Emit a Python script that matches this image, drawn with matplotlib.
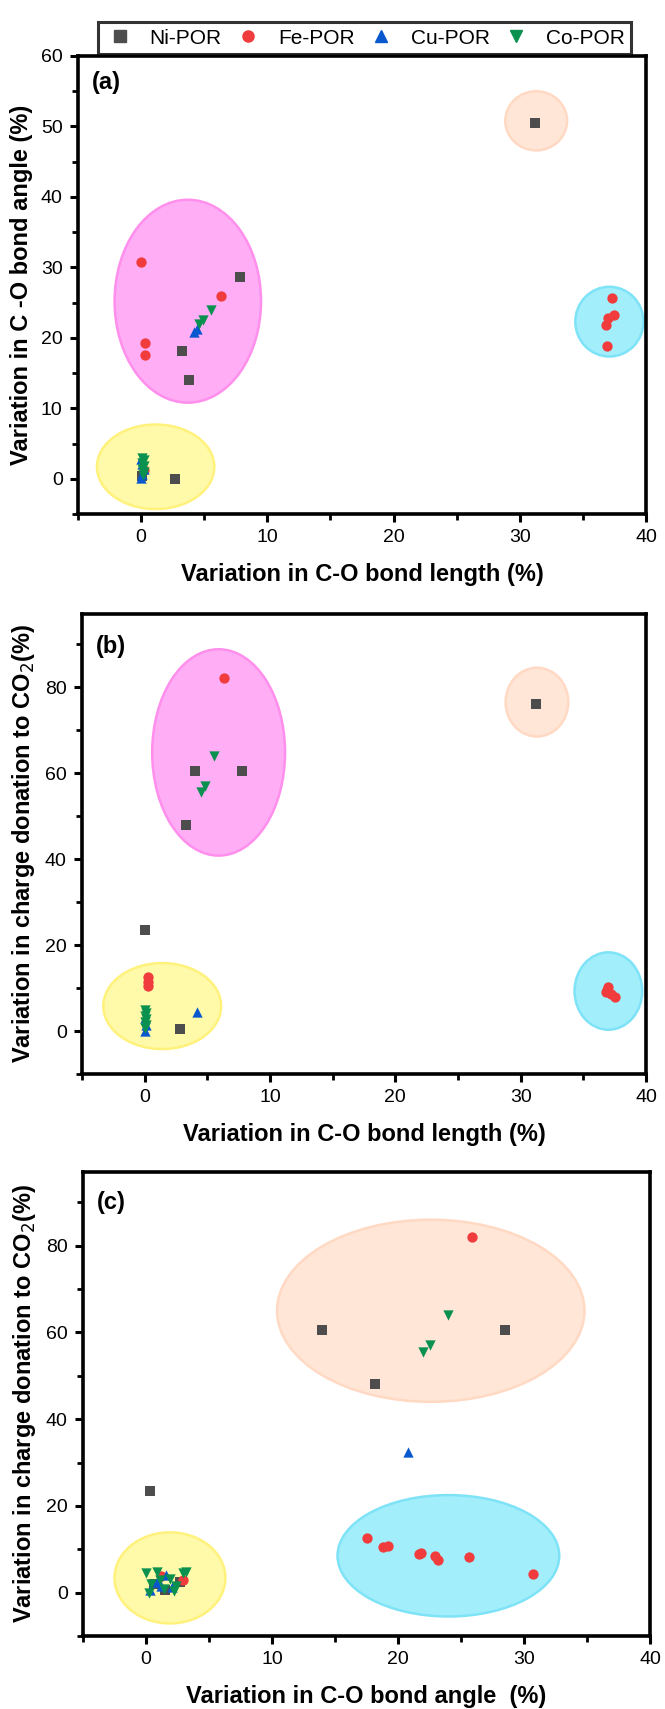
import matplotlib
matplotlib.use("Agg")
import matplotlib.pyplot as plt
from matplotlib import font_manager
from matplotlib.patches import Ellipse
from matplotlib.lines import Line2D
from matplotlib.ticker import MultipleLocator

# condensed look of the original: use the narrow Liberation face if it exists
names = {f.name for f in font_manager.fontManager.ttflist}
narrow = "Liberation Sans Narrow" in names
if narrow:
    plt.rcParams['font.family'] = ['Liberation Sans Narrow', 'DejaVu Sans']
    fs_tick, fs_lab, fs_leg, fs_tag = 16, 20, 18.5, 19
else:
    plt.rcParams['font.family'] = ['Liberation Sans', 'DejaVu Sans']
    fs_tick, fs_lab, fs_leg, fs_tag = 14, 17, 15, 17

# ---- series names / styles ----
series = ["Ni-POR", "Fe-POR", "Cu-POR", "Co-POR"]
markers = ["s", "o", "^", "v"]
colors = ["#4D4D4D", "#F03C3C", "#0A58CF", "#0A9150"]

# ---- panel (a): bond length (x) vs bond angle (y) ----
a_ni_x = [31.2, 7.8, 3.2, 3.8, 2.7, 0.1]
a_ni_y = [50.5, 28.6, 18.2, 14.0, 0.0, 0.4]
a_fe_x = [0.0, 0.3, 0.3, 6.3, 37.3, 37.5, 37.0, 36.8, 36.9, 0.2]
a_fe_y = [30.7, 19.2, 17.6, 26.0, 25.6, 23.2, 22.8, 21.8, 18.8, 1.2]
a_cu_x = [4.2, 4.4, 0.0, 0.1, 0.2, 0.1, 0.0]
a_cu_y = [20.8, 21.3, 0.1, 0.7, 1.4, 2.1, 2.8]
a_co_x = [4.6, 4.9, 5.5, 0.1, 0.2, 0.1, 0.2, 0.1, 0.2, 0.15]
a_co_y = [21.9, 22.5, 24.0, 3.0, 2.6, 2.2, 1.8, 1.4, 1.0, 0.5]

# ---- panel (b): bond length (x) vs charge donation (y) ----
b_ni_x = [31.2, 4.0, 7.8, 3.3, 0.0, 2.8]
b_ni_y = [76.0, 60.5, 60.5, 48.0, 23.5, 0.5]
b_fe_x = [6.3, 0.3, 0.3, 0.3, 37.0, 36.8, 37.2, 37.5, 36.9]
b_fe_y = [82.0, 12.5, 11.5, 10.5, 10.2, 9.0, 8.6, 7.8, 9.6]
b_cu_x = [4.2, 0.0, 0.1, 0.0]
b_cu_y = [4.5, 0.0, 1.5, 3.0]
b_co_x = [5.5, 4.8, 4.5, 0.0, 0.1, 0.0, 0.1, 0.0, 0.1, 0.0]
b_co_y = [64.0, 57.0, 55.5, 5.0, 4.3, 3.6, 2.9, 2.2, 1.5, 0.6]

# ---- panel (c): bond angle (x) vs charge donation (y) ----
c_ni_x = [14.0, 28.5, 18.2, 0.3, 0.6, 2.7, 1.5]
c_ni_y = [60.5, 60.5, 48.0, 23.5, 2.0, 2.5, 0.5]
c_fe_x = [25.9, 17.5, 18.8, 19.2, 21.8, 21.7, 22.9, 23.2, 25.6, 30.7, 1.2, 2.9]
c_fe_y = [82.0, 12.5, 10.5, 10.8, 9.2, 8.8, 8.5, 7.5, 8.2, 4.2, 3.8, 3.0]
c_cu_x = [20.8, 0.3, 0.9, 1.6, 2.1, 1.2]
c_cu_y = [32.5, 0.5, 2.5, 4.0, 1.2, 1.5]
c_co_x = [24.0, 22.5, 22.0, 0.0, 0.4, 0.9, 1.4, 1.9, 2.4, 2.9, 3.2, 0.2, 1.1, 2.2]
c_co_y = [64.0, 57.0, 55.5, 4.5, 2.0, 4.8, 0.8, 3.2, 1.5, 4.6, 4.8, 0.0, 3.0, 0.4]

# ---- highlight ellipses: (cx, cy, w, h, kind) ----
shade = {"pink": ("#FFADF5", "#FF8FEC"), "yellow": ("#FFF9AA", "#FFF27C"),
         "cyan": ("#A2EEFB", "#7FE3F7"), "peach": ("#FFE6D7", "#FFD9C3")}
a_ell = [(3.7, 25.2, 11.6, 28.8, "pink"), (1.15, 1.7, 9.3, 12.0, "yellow"),
         (31.3, 50.8, 4.9, 8.4, "peach"), (37.1, 22.3, 5.4, 9.9, "cyan")]
b_ell = [(5.9, 64.8, 10.6, 48.0, "pink"), (1.4, 5.8, 9.4, 20.0, "yellow"),
         (31.3, 76.5, 5.0, 16.0, "peach"), (37.0, 9.3, 5.4, 18.0, "cyan")]
c_ell = [(22.6, 65.0, 24.4, 42.0, "peach"), (1.9, 3.4, 8.8, 21.0, "yellow"),
         (24.0, 8.5, 17.6, 28.0, "cyan")]

W, H = 665, 1709
fig = plt.figure(figsize=(W / 100, H / 100), dpi=100)

def rect(l, r, t, b):
    return [l / W, 1 - b / H, (r - l) / W, (b - t) / H]

panels = [
    (rect(78, 646, 56, 514), (-5, 60), 10, 5, "(a)", 26,
     "Variation in C-O bond length (%)", "Variation in C -O bond angle (%)",
     a_ell, [(a_ni_x, a_ni_y), (a_fe_x, a_fe_y), (a_cu_x, a_cu_y), (a_co_x, a_co_y)]),
    (rect(82, 646, 614, 1074), (-10, 97), 20, 10, "(b)", 32,
     "Variation in C-O bond length (%)", "Variation in charge donation to CO$_2$(%)",
     b_ell, [(b_ni_x, b_ni_y), (b_fe_x, b_fe_y), (b_cu_x, b_cu_y), (b_co_x, b_co_y)]),
    (rect(83, 650, 1172, 1636), (-10, 97), 20, 10, "(c)", 30,
     "Variation in C-O bond angle  (%)", "Variation in charge donation to CO$_2$(%)",
     c_ell, [(c_ni_x, c_ni_y), (c_fe_x, c_fe_y), (c_cu_x, c_cu_y), (c_co_x, c_co_y)]),
]

for pos, ylim, ymaj, ymin, tag, tag_dy, xlab, ylab, ells, data in panels:
    ax = fig.add_axes(pos)
    for cx, cy, w, h, kind in ells:
        fc, ec = shade[kind]
        ax.add_patch(Ellipse((cx, cy), w, h, facecolor=fc, edgecolor=ec, lw=1.8, zorder=1))
    for (xs, ys), m, c in zip(data, markers, colors):
        ax.scatter(xs, ys, marker=m, s=55, color=c, linewidths=0, zorder=3)
    ax.set_xlim(-5, 40)
    ax.set_ylim(*ylim)
    ax.xaxis.set_major_locator(MultipleLocator(10))
    ax.xaxis.set_minor_locator(MultipleLocator(5))
    ax.yaxis.set_major_locator(MultipleLocator(ymaj))
    ax.yaxis.set_minor_locator(MultipleLocator(ymin))
    for s in ax.spines.values():
        s.set_linewidth(2.6)
    ax.tick_params(which="major", direction="out", length=6, width=2.2,
                   labelsize=fs_tick, pad=5)
    ax.tick_params(which="minor", direction="out", length=4, width=2.0)
    ax.set_xlabel(xlab, fontsize=fs_lab, fontweight="bold", labelpad=12)
    ax.set_ylabel(ylab, fontsize=fs_lab, fontweight="bold", labelpad=6)
    ax.annotate(tag, xy=(0, 1), xycoords="axes fraction", xytext=(14, -tag_dy),
                textcoords="offset pixels", fontsize=fs_tag, fontweight="bold",
                va="center", ha="left")

handles = [Line2D([], [], ls="none", marker=m, color=c, markersize=8)
           for m, c in zip(markers, colors)]
leg = fig.legend(handles, series, loc="upper center", ncol=4, fontsize=fs_leg,
                 bbox_to_anchor=(364.5 / W, 1 - 12 / H), frameon=True, fancybox=False,
                 handlelength=1.5, handletextpad=0.7, columnspacing=0.5,
                 borderpad=0.3)
leg.get_frame().set_edgecolor("black")
leg.get_frame().set_linewidth(2.2)

fig.savefig("out.png", dpi=100)
